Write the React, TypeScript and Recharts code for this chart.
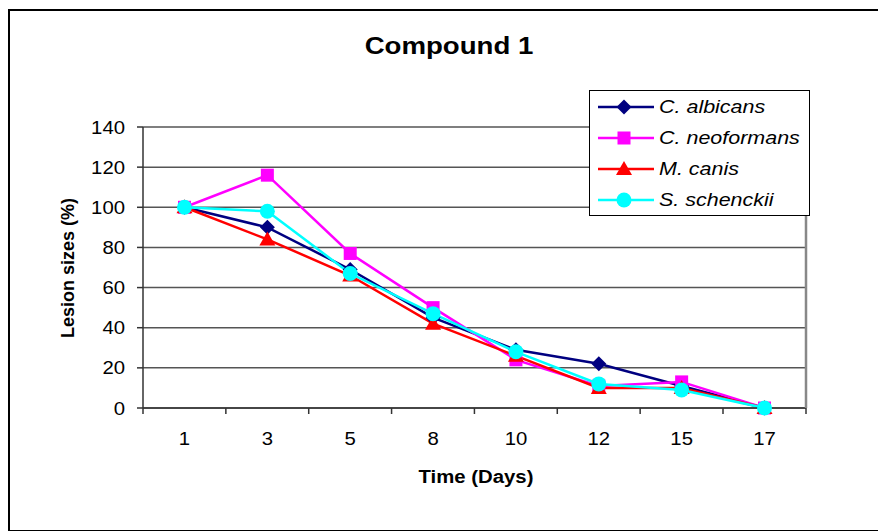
import React from 'react';
import { LineChart, Line, XAxis, YAxis, CartesianGrid, Legend } from 'recharts';

const days = ['1', '3', '5', '8', '10', '12', '15', '17'];
const albicans = [100, 90, 69, 45, 29, 22, 11, 0];
const neoformans = [100, 116, 77, 50, 24, 11, 13, 0];
const canis = [100, 84, 66, 42, 26, 10, 10, 0];
const schenckii = [100, 98, 67, 47, 28, 12, 9, 0];
const yTicks = [0, 20, 40, 60, 80, 100, 120, 140];

const FONT = '"Liberation Sans", Arial, sans-serif';
const STRETCH = 1.13; // the source picture is a little wider than tall
const W = 878;
const H = 531;
const MARGIN = { top: 127, right: 71, left: 83, bottom: 93 };
const Y_AXIS_W = 60;
const X_AXIS_H = 30;
const BAND = (W - MARGIN.left - Y_AXIS_W - MARGIN.right) / days.length;

type Shape = 'diamond' | 'square' | 'triangle' | 'circle';

const series: { key: string; name: string; color: string; shape: Shape }[] = [
  { key: 'albicans', name: 'C. albicans', color: '#000080', shape: 'diamond' },
  { key: 'neoformans', name: 'C. neoformans', color: '#FF00FF', shape: 'square' },
  { key: 'canis', name: 'M. canis', color: '#FF0000', shape: 'triangle' },
  { key: 'schenckii', name: 'S. schenckii', color: '#00FFFF', shape: 'circle' },
];

const data = days.map((d, i) => ({
  day: d,
  albicans: albicans[i],
  neoformans: neoformans[i],
  canis: canis[i],
  schenckii: schenckii[i],
}));

function Marker({ cx, cy, shape, color }: { cx: number; cy: number; shape: Shape; color: string }) {
  if (shape === 'diamond') {
    const r = 7.5;
    return <polygon points={`${cx},${cy - r} ${cx + r},${cy} ${cx},${cy + r} ${cx - r},${cy}`} fill={color} />;
  }
  if (shape === 'square') {
    const s = 13;
    return <rect x={cx - s / 2} y={cy - s / 2} width={s} height={s} fill={color} />;
  }
  if (shape === 'triangle') {
    const r = 8;
    return <polygon points={`${cx},${cy - r} ${cx + r},${cy + r * 0.75} ${cx - r},${cy + r * 0.75}`} fill={color} />;
  }
  return <circle cx={cx} cy={cy} r={7.5} fill={color} />;
}

const makeDot = (shape: Shape, color: string) => (props: any) => {
  const { cx, cy, index } = props;
  if (cx == null || cy == null) return <g key={`e-${index}`} />;
  return <Marker key={`${shape}-${index}`} cx={cx} cy={cy} shape={shape} color={color} />;
};

const XTick = (props: any) => {
  const { x, y, payload, index } = props;
  const half = BAND / 2;
  return (
    <g>
      <line x1={x - half} y1={y} x2={x - half} y2={y + 6} stroke="#333" strokeWidth={1.5} />
      {index === days.length - 1 && (
        <line x1={x + half} y1={y} x2={x + half} y2={y + 6} stroke="#333" strokeWidth={1.5} />
      )}
      <text
        transform={`translate(${x},${y + 37}) scale(${STRETCH},1)`}
        textAnchor="middle"
        fontSize={18}
        fontFamily={FONT}
        fill="#000"
      >
        {payload.value}
      </text>
    </g>
  );
};

const YTick = (props: any) => {
  const { x, y, payload } = props;
  return (
    <text
      transform={`translate(${x},${y + 6.5}) scale(${STRETCH},1)`}
      textAnchor="end"
      fontSize={18}
      fontFamily={FONT}
      fill="#000"
    >
      {payload.value}
    </text>
  );
};

const LegendBox = () => (
  <div
    style={{
      border: '1.5px solid #000',
      background: '#fff',
      padding: '0 0 0 8px',
      boxSizing: 'border-box',
      width: 221,
      height: 126,
    }}
  >
    {series.map((s) => (
      <div key={s.key} style={{ display: 'flex', alignItems: 'center', height: 31 }}>
        <svg width={56} height={20} style={{ flex: 'none' }}>
          <line x1={0} y1={10} x2={56} y2={10} stroke={s.color} strokeWidth={2.5} />
          <Marker cx={26} cy={10} shape={s.shape} color={s.color} />
        </svg>
        <span
          style={{
            fontFamily: FONT,
            fontStyle: 'italic',
            fontSize: 19,
            marginLeft: 5,
            color: '#000',
            display: 'inline-block',
            transform: `scaleX(${STRETCH})`,
            transformOrigin: 'left center',
            whiteSpace: 'nowrap',
          }}
        >
          {s.name}
        </span>
      </div>
    ))}
  </div>
);

export default function App() {
  return (
    <div style={{ position: 'relative', width: W, height: H, background: '#fff', overflow: 'hidden' }}>
      <style>{'body{margin:0}'}</style>
      <div
        style={{
          position: 'absolute',
          left: 8,
          top: 9,
          width: W + 10,
          height: H - 8,
          border: '2px solid #000',
          boxSizing: 'border-box',
        }}
      />
      <div
        style={{
          position: 'absolute',
          left: 449,
          top: 46,
          transform: 'translate(-50%, -50%) scaleX(1.15)',
          whiteSpace: 'nowrap',
          fontFamily: FONT,
          fontWeight: 'bold',
          fontSize: 24,
        }}
      >
        Compound 1
      </div>
      <LineChart width={W} height={H} data={data} margin={MARGIN} style={{ position: 'absolute', left: 0, top: 0 }}>
        <CartesianGrid horizontal vertical={false} stroke="#555" strokeWidth={1.5} />
        <XAxis
          dataKey="day"
          height={X_AXIS_H}
          padding={{ left: BAND / 2, right: BAND / 2 }}
          tickLine={false}
          tickSize={0}
          tickMargin={0}
          axisLine={{ stroke: '#333', strokeWidth: 1.5 }}
          tick={<XTick />}
          interval={0}
        />
        <YAxis
          width={Y_AXIS_W}
          domain={[0, 140]}
          ticks={yTicks}
          interval={0}
          tickSize={6}
          tickMargin={12}
          axisLine={{ stroke: '#333', strokeWidth: 1.5 }}
          tickLine={{ stroke: '#333', strokeWidth: 1.5 }}
          tick={<YTick />}
        />
        <YAxis
          yAxisId="frame"
          orientation="right"
          width={1}
          domain={[0, 140]}
          ticks={yTicks}
          tick={false}
          tickLine={false}
          axisLine={{ stroke: '#888', strokeWidth: 2.5 }}
        />
        {series.map((s) => (
          <Line
            key={s.key}
            dataKey={s.key}
            name={s.name}
            stroke={s.color}
            strokeWidth={2.5}
            dot={makeDot(s.shape, s.color)}
            activeDot={false}
            isAnimationActive={false}
          />
        ))}
        <Line yAxisId="frame" dataKey="albicans" stroke="none" dot={false} activeDot={false} legendType="none" isAnimationActive={false} />
        <Legend
          layout="vertical"
          align="center"
          verticalAlign="middle"
          content={<LegendBox />}
          wrapperStyle={{ left: 589, top: 90, width: 221, height: 126 }}
        />
      </LineChart>
      <div
        style={{
          position: 'absolute',
          left: 476,
          top: 477,
          transform: `translate(-50%, -50%) scaleX(${STRETCH})`,
          whiteSpace: 'nowrap',
          fontFamily: FONT,
          fontWeight: 'bold',
          fontSize: 18,
        }}
      >
        Time (Days)
      </div>
      <div
        style={{
          position: 'absolute',
          left: 68,
          top: 268,
          transform: 'translate(-50%, -50%) rotate(-90deg)',
          whiteSpace: 'nowrap',
          fontFamily: FONT,
          fontWeight: 'bold',
          fontSize: 18,
        }}
      >
        Lesion sizes (%)
      </div>
    </div>
  );
}
